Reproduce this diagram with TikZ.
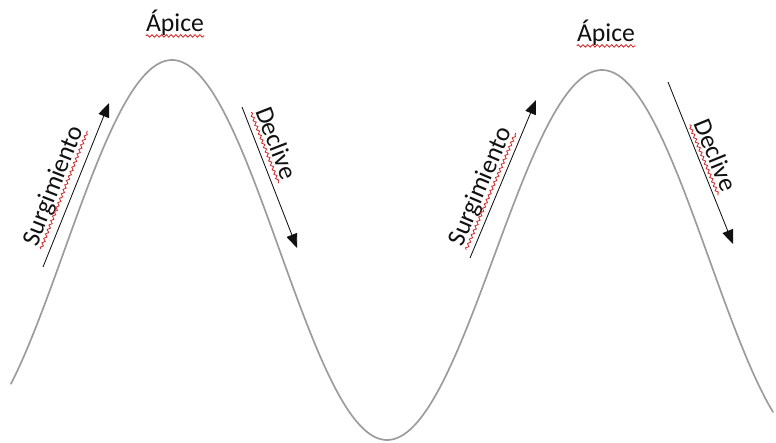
\documentclass[tikz,border=0pt]{standalone}
\usepackage{fontspec}
\setmainfont{Carlito}
\usetikzlibrary{arrows.meta,decorations.pathmorphing,calc}
\definecolor{ink}{HTML}{111111}
\definecolor{wavegray}{HTML}{9C9C9C}
\definecolor{spellred}{HTML}{D42A2A}

\begin{document}
\begin{tikzpicture}[
  x=0.025cm, y=-0.025cm,
  declare function={
    wv(\t) = (\t<172) ? 60+190*(1+cos((\t+43)/215*180)) :
      ((\t<387) ? 60+190*(1-cos((\t-172)/215*180)) :
      ((\t<602) ? 70+185*(1+cos((\t-387)/215*180)) :
                  70+190*(1-cos((\t-602)/215*180))));
  },
  every node/.style={font=\fontsize{18.3}{22}\selectfont, text=ink, inner sep=0pt},
  wave/.style={draw=wavegray, line width=1.2pt, line cap=round},
  arr/.style={-{Triangle[length=10pt,width=8pt]}, line width=0.6pt, draw=ink},
  squiggle/.style={draw=spellred, line width=0.6pt, decorate,
    decoration={snake, amplitude=0.9pt, segment length=3.4pt}}
]
\useasboundingbox (0,0) rectangle (776,442);

% --- the wave ---
\draw[wave] plot[domain=11:773, samples=160, smooth] (\x, {wv(\x)});

% --- peaks ---
\node (apex1) at (175,23) {Ápice};
\node (apex2) at (606,33) {Ápice};

% --- rising and falling labels ---
\node[rotate=68.5] (rise1) at (54,186) {Surgimiento};
\node[rotate=-68.7] (fall1) at (277,143) {Declive};
\node[rotate=67] (rise2) at (481,187) {Surgimiento};
\node[rotate=-67.8] (fall2) at (716,155) {Declive};

% --- arrows along the slopes ---
\coordinate (rise1s) at (43,267);
\coordinate (rise1e) at (109,103);
\coordinate (fall1s) at (242,107);
\coordinate (fall1e) at (297,248);
\coordinate (rise2s) at (470,258);
\coordinate (rise2e) at (536,100);
\coordinate (fall2s) at (668,82);
\coordinate (fall2e) at (733,244);
\foreach \a in {rise1,fall1,rise2,fall2}
  \draw[arr] (\a s) -- (\a e);

% spell-check underlines
\foreach \n in {apex1,apex2,rise1,fall1,rise2,fall2}
  \draw[squiggle] ($(\n.base west)!3pt!-90:(\n.base east)$) -- ($(\n.base east)!3pt!90:(\n.base west)$);

\end{tikzpicture}
\end{document}
